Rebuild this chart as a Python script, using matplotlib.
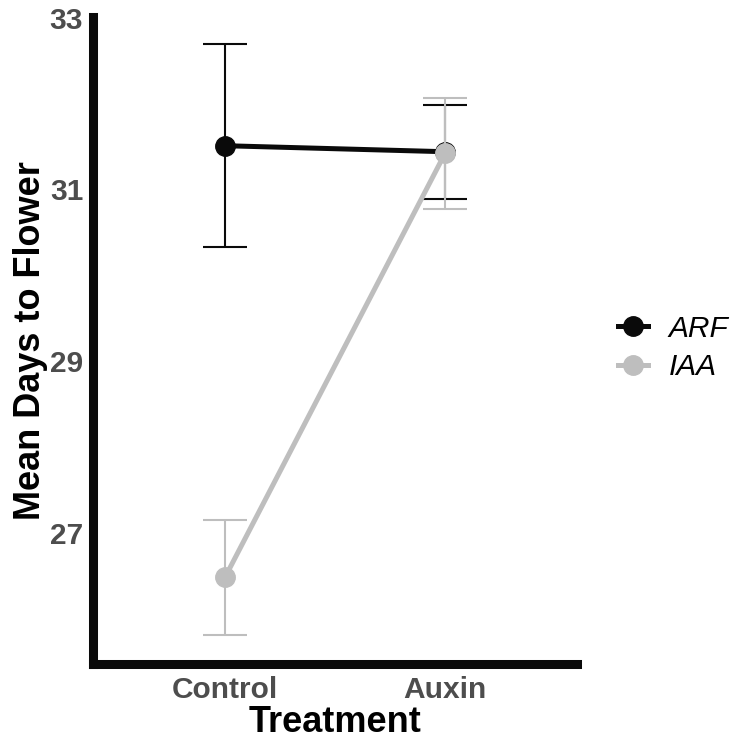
import matplotlib
matplotlib.use("Agg")
import matplotlib.pyplot as plt
from matplotlib.lines import Line2D

plt.rcParams["font.family"] = ["Liberation Sans", "DejaVu Sans"]

treatments = ["Control", "Auxin"]
arf_mean = [31.51, 31.44]
arf_err = [1.18, 0.55]
iaa_mean = [26.48, 31.42]
iaa_err = [0.67, 0.65]

black = "#0a0a0a"
grey = "#bebebe"

fig = plt.figure(figsize=(7.5, 7.53), dpi=100)
ax = fig.add_axes([93 / 750, 1 - 664 / 753, (577 - 93) / 750, (664 - 17) / 753])

x = list(range(len(treatments)))
for mean, err, color, z in [(arf_mean, arf_err, black, 2), (iaa_mean, iaa_err, grey, 3)]:
    ax.errorbar(x, mean, yerr=err, fmt="none", ecolor=color, elinewidth=1.5,
                capsize=15.5, capthick=1.5, zorder=z)
    ax.plot(x, mean, color=color, linewidth=3.6, zorder=z,
            marker="o", markersize=14, solid_capstyle="butt")

ax.set_xlim(-0.6, 1.6)
ax.set_ylim(25.47, 33.01)
ax.set_xticks(x)
ax.set_xticklabels(treatments)
ax.set_yticks([27, 29, 31, 33])

for side in ["top", "right"]:
    ax.spines[side].set_visible(False)
for side in ["left", "bottom"]:
    ax.spines[side].set_linewidth(6.5)
    ax.spines[side].set_color(black)
    ax.spines[side].set_capstyle("projecting")

ax.tick_params(axis="both", length=3, width=1.2, color="#4d4d4d",
               labelcolor="#4d4d4d", labelsize=21.5)
ax.tick_params(axis="x", pad=6)
ax.tick_params(axis="y", pad=4)
for lbl in ax.get_xticklabels() + ax.get_yticklabels():
    lbl.set_fontweight("bold")

ax.set_xlabel("Treatment", fontsize=26, fontweight="bold", color="black", labelpad=0)
ax.set_ylabel("Mean Days to Flower", fontsize=26, fontweight="bold", color="black", labelpad=1)

handles = [
    Line2D([], [], color=black, linewidth=3.6, marker="o", markersize=14),
    Line2D([], [], color=grey, linewidth=3.6, marker="o", markersize=14),
]
leg = fig.legend(handles, ["ARF", "IAA"], loc="center left",
                 bbox_to_anchor=(591 / 750, 1 - 348 / 753), frameon=False,
                 handlelength=1.0, labelspacing=0.35, handletextpad=0.7,
                 prop={"size": 21.5, "style": "italic"})

fig.savefig("out.png", dpi=100)
